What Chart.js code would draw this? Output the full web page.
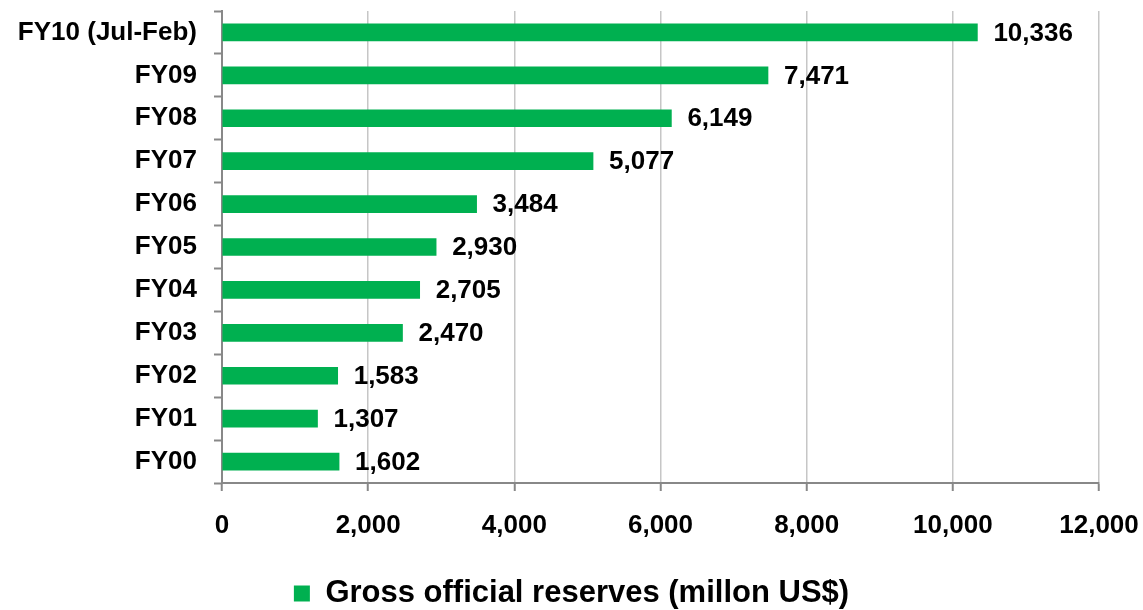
<!DOCTYPE html>
<html>
<head>
<meta charset="utf-8">
<script src="https://cdn.jsdelivr.net/npm/chart.js@4"></script>
<style>
  html, body { margin: 0; padding: 0; background: #ffffff; }
  #wrap { width: 1143px; height: 610px; position: relative; }
</style>
</head>
<body>
<div id="wrap"><canvas id="c" width="1143" height="610"></canvas></div>
<script>
// Fiscal years, newest first (top of the chart)
const years = ['FY10 (Jul-Feb)', 'FY09', 'FY08', 'FY07', 'FY06', 'FY05', 'FY04', 'FY03', 'FY02', 'FY01', 'FY00'];
// Gross official reserves, million US$
const reserves = [10336, 7471, 6149, 5077, 3484, 2930, 2705, 2470, 1583, 1307, 1602];
const seriesName = 'Gross official reserves (millon US$)';
const axisMin = 0;
const axisMax = 12000;
const axisStep = 2000;

const FONT = '"Liberation Sans", Arial, sans-serif';
const GREEN = '#00b050';
const AXIS_GREY = '#888888';
const GRID_GREY = '#c6c6c6';

// Writes each bar's value just past its end
const valueLabels = {
  id: 'valueLabels',
  afterDatasetsDraw(chart) {
    const ctx = chart.ctx;
    const meta = chart.getDatasetMeta(0);
    const values = chart.data.datasets[0].data;
    ctx.save();
    ctx.font = 'bold 26px ' + FONT;
    ctx.fillStyle = '#000000';
    ctx.textAlign = 'left';
    ctx.textBaseline = 'middle';
    meta.data.forEach((bar, i) => {
      ctx.fillText(values[i].toLocaleString('en-US'), bar.x + 16, bar.y + 1);
    });
    ctx.restore();
  }
};

new Chart(document.getElementById('c'), {
  type: 'bar',
  data: {
    labels: years,
    datasets: [{
      label: seriesName,
      data: reserves,
      backgroundColor: GREEN,
      borderWidth: 0,
      barThickness: 17
    }]
  },
  options: {
    indexAxis: 'y',
    responsive: false,
    animation: false,
    layout: { padding: { top: 11, right: 0, bottom: -9, left: 0 } },
    plugins: {
      legend: {
        position: 'bottom',
        labels: {
          boxWidth: 16,
          boxHeight: 16,
          padding: 0,
          color: '#000000',
          font: { family: FONT, size: 31, weight: 'bold' }
        }
      },
      tooltip: { enabled: false }
    },
    scales: {
      x: {
        min: axisMin,
        max: axisMax,
        ticks: {
          stepSize: axisStep,
          color: '#000000',
          padding: 19,
          font: { family: FONT, size: 26, weight: 'bold' },
          callback: v => Number(v).toLocaleString('en-US')
        },
        grid: {
          color: GRID_GREY,
          lineWidth: 1.5,
          tickColor: AXIS_GREY,
          tickLength: 8,
          tickWidth: 2
        },
        border: { color: AXIS_GREY, width: 2 },
        afterFit(scale) {
          scale.height = 95;
          scale.paddingRight = 44;
        }
      },
      y: {
        ticks: {
          color: '#000000',
          padding: 17,
          font: { family: FONT, size: 26, weight: 'bold' }
        },
        grid: {
          drawOnChartArea: false,
          drawTicks: true,
          offset: true,
          tickColor: AXIS_GREY,
          tickLength: 8,
          tickWidth: 2
        },
        border: { color: AXIS_GREY, width: 2 },
        afterFit(scale) {
          scale.width = 222;
          scale.paddingTop = 0;
          scale.paddingBottom = 0;
        }
      }
    }
  },
  plugins: [valueLabels]
});
</script>
</body>
</html>
